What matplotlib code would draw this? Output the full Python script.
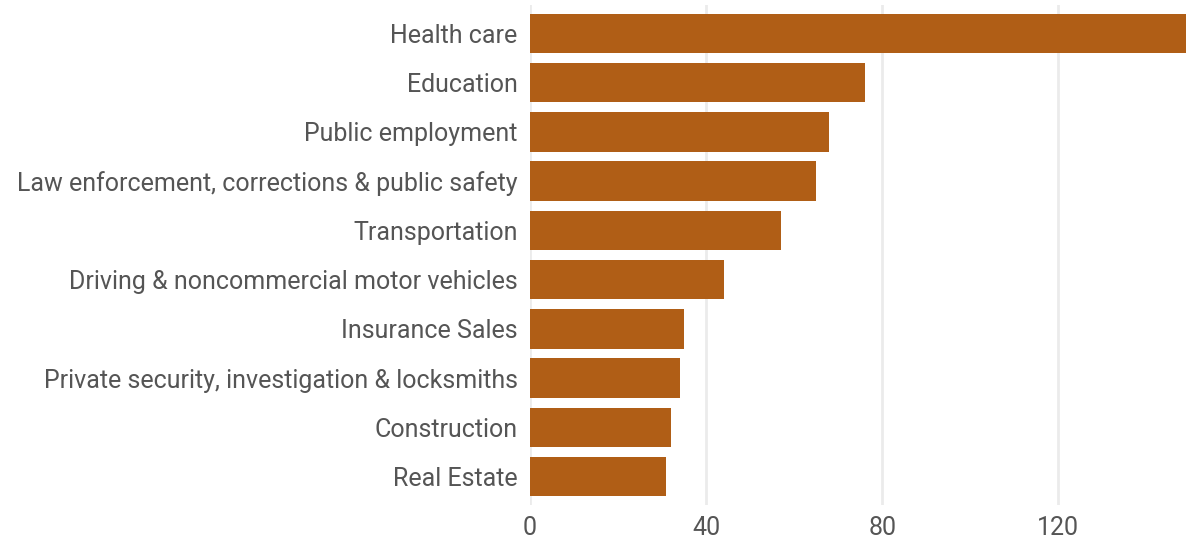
import matplotlib.pyplot as plt
import numpy as np

categories = ["Health care", "Education", "Public employment",
              "Law enforcement, corrections & public safety", "Transportation",
              "Driving & noncommercial motor vehicles", "Insurance Sales",
              "Private security, investigation & locksmiths", "Construction",
              "Real Estate"]
values = [149, 76, 68, 65, 57, 44, 35, 34, 32, 31]
xticks = [0, 40, 80, 120]

BAR_COLOR = "#B05E16"
TEXT_COLOR = "#555555"
GRID_COLOR = "#EBEBEB"

plt.rcParams['font.family'] = ['Roboto', 'DejaVu Sans']

fig = plt.figure(figsize=(11.86, 5.4), dpi=100)
ax = fig.add_axes([530 / 1186, 35 / 540, 656 / 1186, 500 / 540])

y = np.arange(len(categories))
ax.barh(y, values, height=0.8, color=BAR_COLOR, zorder=2)

ax.set_xlim(0, 149)
ax.set_ylim(len(categories) - 0.42, -0.58)
ax.set_yticks(y)
ax.set_yticklabels(categories)
ax.set_xticks(xticks)
ax.set_xticklabels([str(v) for v in xticks])

ax.grid(axis='x', color=GRID_COLOR, linewidth=2, zorder=0)
ax.tick_params(axis='both', length=0, colors=TEXT_COLOR, labelsize=18)
ax.tick_params(axis='y', pad=9)
ax.tick_params(axis='x', pad=8)
for s in ax.spines.values():
    s.set_visible(False)

fig.savefig("out.png", dpi=100)
